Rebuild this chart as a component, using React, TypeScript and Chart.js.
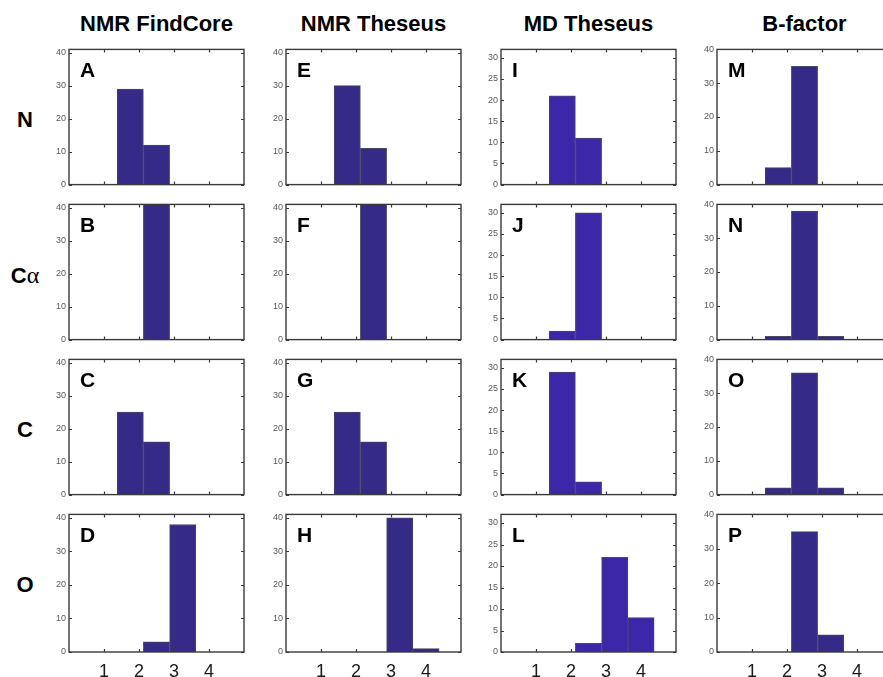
import React, { useEffect, useRef } from "react";
import { Chart, registerables } from "chart.js";

Chart.register(...registerables);

// Histogram bin centres (Å) shared by every panel
const binCenters = [1, 1.75, 2.5, 3.25, 4];
const xTickValues = [1, 2, 3, 4];

const columnTitles = ["NMR FindCore", "NMR Theseus", "MD Theseus", "B-factor"];
const rowLabels = ["N", "Cα", "C", "O"];
const panelLetters = [
  ["A", "B", "C", "D"],
  ["E", "F", "G", "H"],
  ["I", "J", "K", "L"],
  ["M", "N", "O", "P"],
];

// Counts per bin, one list per atom type (N, Cα, C, O)
const nmrFindCore = [
  [0, 29, 12, 0, 0],
  [0, 0, 41, 0, 0],
  [0, 25, 16, 0, 0],
  [0, 0, 3, 38, 0],
];
const nmrTheseus = [
  [0, 30, 11, 0, 0],
  [0, 0, 41, 0, 0],
  [0, 25, 16, 0, 0],
  [0, 0, 0, 40, 1],
];
const mdTheseus = [
  [0, 21, 11, 0, 0],
  [0, 2, 30, 0, 0],
  [0, 29, 3, 0, 0],
  [0, 0, 2, 22, 8],
];
const bFactor = [
  [0, 5, 35, 0, 0],
  [0, 1, 38, 1, 0],
  [0, 2, 36, 2, 0],
  [0, 0, 35, 5, 0],
];

const yTicksNmr = [0, 10, 20, 30, 40];
const yTicksMd = [0, 5, 10, 15, 20, 25, 30];
const yTicksB = [0, 10, 20, 30, 40];

const columnCounts = [nmrFindCore, nmrTheseus, mdTheseus, bFactor];
const columnYMax = [41, 41, 32, 40];
const columnYTicks = [yTicksNmr, yTicksNmr, yTicksMd, yTicksB];

// Layout
const colLefts = [69, 286, 501, 717];
const rowTops = [49, 204, 359, 514];
const plotW = 175;
const plotH = 138;
const padL = 40;
const padT = 8;
const padR = 6;
const padB = 6;
const xAxisH = 30;

const barColors = ["#352a87", "#352a87", "#3d27a9", "#352a87"];
const FONT = '"Liberation Sans", Arial, sans-serif';

// Box outline with inward tick marks and the panel letter
const framePlugin = {
  id: "frame",
  afterDraw(chart: any, _args: any, opts: any) {
    const { ctx, chartArea } = chart;
    const { left, right, top, bottom } = chartArea;
    const xs = chart.scales.x;
    const ys = chart.scales.y;
    ctx.save();
    ctx.strokeStyle = "#3a3a3a";
    ctx.lineWidth = 1.4;
    ctx.strokeRect(left, top, right - left, bottom - top);
    ctx.lineWidth = 1.2;
    ctx.beginPath();
    xs.ticks.forEach((t: any) => {
      const px = Math.round(xs.getPixelForValue(t.value)) + 0.5;
      ctx.moveTo(px, bottom);
      ctx.lineTo(px, bottom - 3);
      ctx.moveTo(px, top);
      ctx.lineTo(px, top + 3);
    });
    ys.ticks.forEach((t: any) => {
      const py = Math.round(ys.getPixelForValue(t.value)) + 0.5;
      ctx.moveTo(left, py);
      ctx.lineTo(left + 3, py);
      ctx.moveTo(right, py);
      ctx.lineTo(right - 3, py);
    });
    ctx.stroke();
    ctx.fillStyle = "#000";
    ctx.font = `bold 21px ${FONT}`;
    ctx.textBaseline = "alphabetic";
    ctx.textAlign = "left";
    ctx.fillText(opts.letter, left + 11, top + 28);
    ctx.restore();
  },
};

type PanelProps = { col: number; row: number };

function Panel({ col, row }: PanelProps) {
  const ref = useRef<HTMLCanvasElement | null>(null);
  const bottomRow = row === 3;
  const width = padL + plotW + padR;
  const height = padT + plotH + (bottomRow ? xAxisH : padB);

  useEffect(() => {
    if (!ref.current) return;
    const counts = columnCounts[col][row];
    const yTicks = columnYTicks[col];
    const chart = new Chart(ref.current, {
      type: "bar",
      data: {
        datasets: [
          {
            data: binCenters.map((c, i) => ({ x: c, y: counts[i] })),
            backgroundColor: barColors[col],
            borderColor: "#4a4868",
            borderWidth: 1,
            borderSkipped: "bottom",
            categoryPercentage: 1,
            barPercentage: 1,
          },
        ],
      },
      options: {
        animation: false,
        responsive: false,
        events: [],
        layout: {
          padding: { left: 0, top: padT, right: padR, bottom: bottomRow ? 0 : padB },
        },
        plugins: {
          legend: { display: false },
          tooltip: { enabled: false },
          frame: { letter: panelLetters[col][row] },
        } as any,
        scales: {
          x: {
            type: "linear",
            min: 0,
            max: 5,
            offset: false,
            display: bottomRow,
            grid: { display: false, drawTicks: false },
            border: { display: false },
            afterBuildTicks: (s: any) => {
              s.ticks = xTickValues.map((v) => ({ value: v }));
            },
            afterFit: (s: any) => {
              s.height = bottomRow ? xAxisH : 0;
            },
            ticks: {
              padding: 9,
              color: "#1a1a1a",
              font: { family: FONT, size: 18 },
              maxRotation: 0,
              autoSkip: false,
            },
          },
          y: {
            type: "linear",
            min: 0,
            max: columnYMax[col],
            grid: { display: false, drawTicks: false },
            border: { display: false },
            afterBuildTicks: (s: any) => {
              s.ticks = yTicks.map((v) => ({ value: v }));
            },
            afterFit: (s: any) => {
              s.width = padL;
            },
            ticks: {
              padding: 3,
              color: "#5a5a5a",
              font: { family: FONT, size: 9 },
            },
          },
        },
      },
      plugins: [framePlugin],
    } as any);
    return () => chart.destroy();
  }, [col, row]);

  return (
    <canvas
      ref={ref}
      width={width}
      height={height}
      style={{
        position: "absolute",
        left: colLefts[col] - padL,
        top: rowTops[row] - padT,
        width,
        height,
      }}
    />
  );
}

export default function App() {
  const panels = [];
  for (let c = 0; c < 4; c++) {
    for (let r = 0; r < 4; r++) {
      panels.push(<Panel key={`${c}-${r}`} col={c} row={r} />);
    }
  }
  return (
    <div
      style={{
        position: "absolute",
        left: 0,
        top: 0,
        width: 883,
        height: 677,
        overflow: "hidden",
        background: "#fff",
        fontFamily: FONT,
      }}
    >
      {columnTitles.map((t, c) => (
        <div
          key={t}
          style={{
            position: "absolute",
            left: colLefts[c] + plotW / 2,
            top: 24,
            transform: "translate(-50%, -50%)",
            fontSize: 22,
            lineHeight: "22px",
            fontWeight: "bold",
            whiteSpace: "nowrap",
            color: "#000",
          }}
        >
          {t}
        </div>
      ))}
      {rowLabels.map((t, r) => (
        <div
          key={t}
          style={{
            position: "absolute",
            left: 25,
            top: rowTops[r] + plotH / 2 + 2,
            transform: "translate(-50%, -50%)",
            fontSize: 22,
            lineHeight: "22px",
            fontWeight: "bold",
            whiteSpace: "nowrap",
            color: "#000",
          }}
        >
          {t === "Cα" ? (
            <>
              C
              <span style={{ fontFamily: '"Liberation Serif", serif', fontWeight: "normal", fontSize: 24 }}>α</span>
            </>
          ) : (
            t
          )}
        </div>
      ))}
      {panels}
    </div>
  );
}
